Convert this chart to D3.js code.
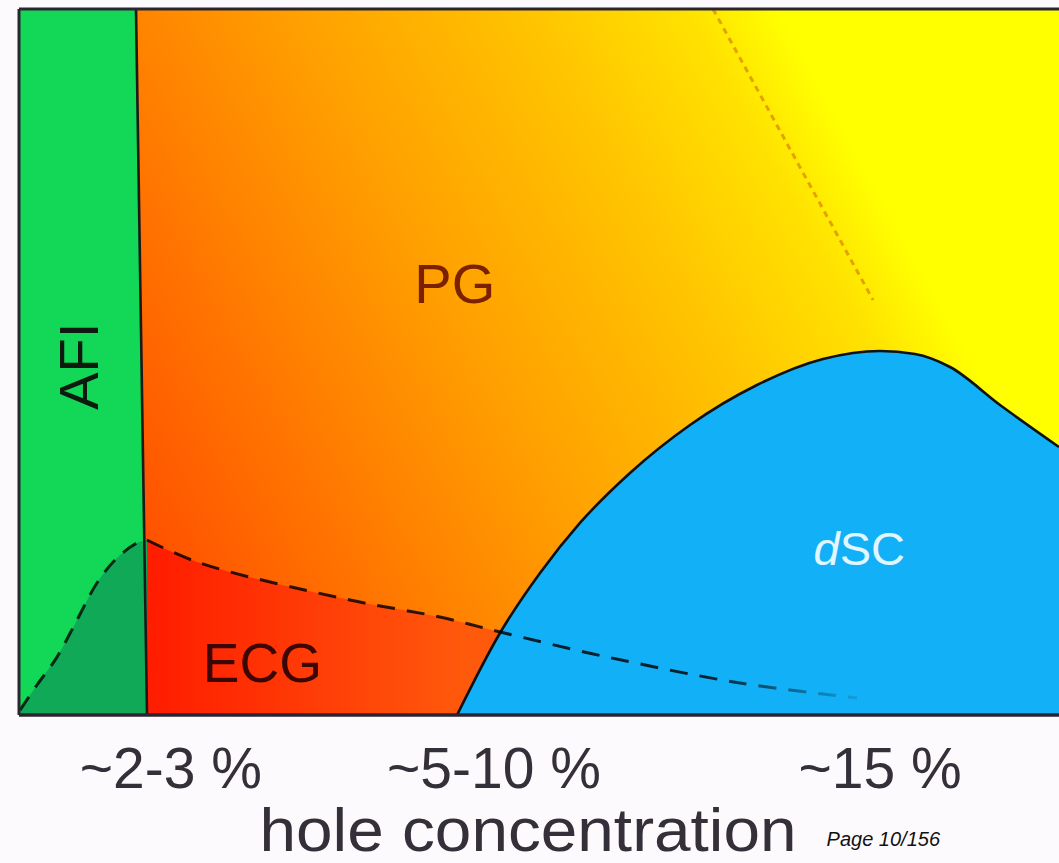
<!DOCTYPE html>
<html>
<head>
<meta charset="utf-8">
<script src="https://cdn.jsdelivr.net/npm/d3@7"></script>
<style>
  html, body { margin: 0; padding: 0; background: #fdfafd; }
  svg { display: block; }
  text { font-family: "Liberation Sans", Arial, Helvetica, sans-serif; }
</style>
</head>
<body>
<svg id="chart" width="1059" height="863"></svg>
<script>
// Schematic cuprate phase diagram: temperature (up) vs hole concentration (right).
// Coordinates are in relative units: x = doping fraction of the axis, y = temperature fraction.

// AFI / PG boundary (nearly vertical line)
const afiBoundary = [[0.1125, 1.0], [0.1231, 0.0]];

// Dashed crossover inside the AFI phase (lower-left hump)
const afiDashCurve = [
  [0.001, 0.007], [0.0173, 0.0425], [0.0365, 0.082], [0.0558, 0.1346],
  [0.075, 0.187], [0.0942, 0.2224], [0.1135, 0.2436], [0.1231, 0.2479]
];

// Dashed line bounding the ECG region, running under the superconducting dome
const ecgDashCurve = [
  [0.1231, 0.2479], [0.174, 0.2153], [0.3183, 0.1629], [0.4048, 0.1388],
  [0.4625, 0.1176], [0.5654, 0.0822], [0.6933, 0.0453], [0.8058, 0.0241]
];

// Superconducting dome (dSC)
const dscDome = [
  [0.4212, 0.0], [0.4625, 0.1161], [0.501, 0.2011], [0.5394, 0.272],
  [0.5875, 0.3428], [0.6452, 0.4108], [0.7096, 0.4674], [0.7731, 0.5042],
  [0.8279, 0.5156], [0.8615, 0.5113], [0.8952, 0.4929], [0.9433, 0.4391],
  [1.0, 0.3796]
];

// Pseudogap crossover (faint dotted line in the upper right)
const pgCrossover = [[0.6673, 1.0], [0.8212, 0.5878]];

// Phase names and where they sit
const phaseNames = ["AFI", "PG", "ECG", "dSC"];
const phaseCenters = [[0.076, 0.494], [0.419, 0.584], [0.234, 0.047], [0.808, 0.2125]];

// Doping labels along the bottom
const tickLabels = ["~2-3 %", "~5-10 %", "~15 %"];
const tickCenters = [0.146, 0.4567, 0.8279];
const axisTitle = "hole concentration";
const pageNote = "Page 10/156";

const svg = d3.select("#chart");
const plotLeft = 19, plotRight = 1059, plotTop = 9, plotBottom = 715;

const x = d3.scaleLinear().domain([0, 1]).range([plotLeft, plotRight]);
const y = d3.scaleLinear().domain([0, 1]).range([plotBottom, plotTop]);

const defs = svg.append("defs");

// Pseudogap background: red-orange in the lower left to yellow in the upper right
const pgGrad = defs.append("linearGradient")
  .attr("id", "pgGrad")
  .attr("gradientUnits", "userSpaceOnUse")
  .attr("x1", -131.5).attr("y1", 72.3)
  .attr("x2", 631).attr("y2", -347);
[
  [0.0, "#ff4a00"], [0.03, "#ff5300"], [0.31, "#ff8600"], [0.46, "#ffa000"],
  [0.69, "#ffc300"], [0.86, "#ffe200"], [0.95, "#ffff00"], [1.0, "#ffff00"]
].forEach(([o, c]) => pgGrad.append("stop").attr("offset", o).attr("stop-color", c));

// ECG fill: red at the AFI edge, turning orange-red toward the dome
const ecgGrad = defs.append("linearGradient")
  .attr("id", "ecgGrad")
  .attr("gradientUnits", "userSpaceOnUse")
  .attr("x1", x(0.1231)).attr("y1", 0)
  .attr("x2", x(0.43)).attr("y2", 0);
ecgGrad.append("stop").attr("offset", 0).attr("stop-color", "#ff1c00");
ecgGrad.append("stop").attr("offset", 1).attr("stop-color", "#ff5a0c");

// Dashed ECG line fades out toward its right end
const fadeGrad = defs.append("linearGradient")
  .attr("id", "fadeGrad")
  .attr("gradientUnits", "userSpaceOnUse")
  .attr("x1", x(0.66)).attr("y1", 0)
  .attr("x2", x(0.81)).attr("y2", 0);
fadeGrad.append("stop").attr("offset", 0).attr("stop-color", "#000").attr("stop-opacity", 0.82);
fadeGrad.append("stop").attr("offset", 1).attr("stop-color", "#000").attr("stop-opacity", 0.08);

defs.append("clipPath").attr("id", "plotClip")
  .append("rect").attr("x", plotLeft).attr("y", plotTop)
  .attr("width", plotRight - plotLeft).attr("height", plotBottom - plotTop);

const plot = svg.append("g").attr("clip-path", "url(#plotClip)");

// Pseudogap background
plot.append("rect")
  .attr("x", plotLeft).attr("y", plotTop)
  .attr("width", plotRight - plotLeft).attr("height", plotBottom - plotTop)
  .attr("fill", "url(#pgGrad)");

const smooth = d3.line().x(d => x(d[0])).y(d => y(d[1])).curve(d3.curveCatmullRom.alpha(0.5));
const domeLine = d3.line().x(d => x(d[0])).y(d => y(d[1])).curve(d3.curveMonotoneX);
const straight = d3.line().x(d => x(d[0])).y(d => y(d[1]));

// ECG region: below the dashed line
const ecgLast = ecgDashCurve[ecgDashCurve.length - 1];
plot.append("path")
  .attr("d", smooth(ecgDashCurve) + `L${x(ecgLast[0])},${y(0)}L${x(ecgDashCurve[0][0])},${y(0)}Z`)
  .attr("fill", "url(#ecgGrad)");

// Pseudogap crossover (dotted)
plot.append("path")
  .attr("d", straight(pgCrossover))
  .attr("fill", "none")
  .attr("stroke", "#d98a00")
  .attr("stroke-opacity", 0.75)
  .attr("stroke-width", 3)
  .attr("stroke-dasharray", "6,5");

// Superconducting dome
const domeLast = dscDome[dscDome.length - 1];
plot.append("path")
  .attr("d", domeLine(dscDome) + `L${x(domeLast[0]) + 5},${y(domeLast[1])}L${x(1) + 5},${y(0)}Z`)
  .attr("fill", "#12b0f6");

// AFI phase (light green)
plot.append("path")
  .attr("d", `M${x(0)},${y(1)}L${x(afiBoundary[0][0])},${y(afiBoundary[0][1])}` +
             `L${x(afiBoundary[1][0])},${y(afiBoundary[1][1])}L${x(0)},${y(0)}Z`)
  .attr("fill", "#13d756");

// Darker green pocket under the AFI dashed curve
const afiLast = afiDashCurve[afiDashCurve.length - 1];
plot.append("path")
  .attr("d", smooth(afiDashCurve) + `L${x(afiLast[0])},${y(0)}L${x(0)},${y(0)}Z`)
  .attr("fill", "#10a957");

// Dome outline
plot.append("path")
  .attr("d", domeLine(dscDome))
  .attr("fill", "none")
  .attr("stroke", "#111")
  .attr("stroke-width", 2.6);

// AFI boundary
plot.append("path")
  .attr("d", straight(afiBoundary))
  .attr("fill", "none")
  .attr("stroke", "#1a1a1a")
  .attr("stroke-width", 2.6);

// Dashed crossovers
plot.append("path")
  .attr("d", smooth(afiDashCurve))
  .attr("fill", "none")
  .attr("stroke", "#000")
  .attr("stroke-opacity", 0.78)
  .attr("stroke-width", 3)
  .attr("stroke-dasharray", "16,11");

plot.append("path")
  .attr("d", smooth(ecgDashCurve))
  .attr("fill", "none")
  .attr("stroke", "url(#fadeGrad)")
  .attr("stroke-width", 3)
  .attr("stroke-dasharray", "18,12");

// Frame: top, left and bottom edges
const frameColor = "#2b2530";
svg.append("line").attr("x1", plotLeft).attr("x2", plotRight).attr("y1", plotTop).attr("y2", plotTop)
  .attr("stroke", frameColor).attr("stroke-width", 3);
svg.append("line").attr("x1", plotLeft).attr("x2", plotLeft).attr("y1", plotTop).attr("y2", plotBottom)
  .attr("stroke", frameColor).attr("stroke-width", 3);
svg.append("line").attr("x1", plotLeft).attr("x2", plotRight).attr("y1", plotBottom).attr("y2", plotBottom)
  .attr("stroke", frameColor).attr("stroke-width", 3.5);

// Phase labels
const labelStyle = {
  AFI: { size: 56, fill: "#0d1a10", rotate: -90 },
  PG:  { size: 56, fill: "#7a2200", rotate: 0 },
  ECG: { size: 55, fill: "#3c0606", rotate: 0 },
  dSC: { size: 47, fill: "#e2f6ff", rotate: 0 }
};
phaseNames.forEach((name, i) => {
  const st = labelStyle[name];
  const [cx, cy] = phaseCenters[i];
  const t = svg.append("text")
    .attr("transform", `translate(${x(cx)},${y(cy)}) rotate(${st.rotate})`)
    .attr("text-anchor", "middle")
    .attr("font-size", st.size)
    .attr("fill", st.fill);
  if (name === "dSC") {
    t.append("tspan").attr("font-style", "italic").text("d");
    t.append("tspan").text("SC");
  } else {
    t.text(name);
  }
});

// Doping labels
const labelColor = "#352f3a";
tickLabels.forEach((lab, i) => {
  svg.append("text")
    .attr("x", x(tickCenters[i]))
    .attr("y", 788)
    .attr("text-anchor", "middle")
    .attr("font-size", 57)
    .attr("fill", labelColor)
    .text(lab);
});

svg.append("text")
  .attr("x", 528)
  .attr("y", 851)
  .attr("text-anchor", "middle")
  .attr("font-size", 62)
  .attr("textLength", 537)
  .attr("lengthAdjust", "spacingAndGlyphs")
  .attr("fill", labelColor)
  .text(axisTitle);

svg.append("text")
  .attr("x", 940)
  .attr("y", 846)
  .attr("text-anchor", "end")
  .attr("font-size", 20)
  .attr("font-style", "italic")
  .attr("fill", "#111")
  .text(pageNote);
</script>
</body>
</html>
